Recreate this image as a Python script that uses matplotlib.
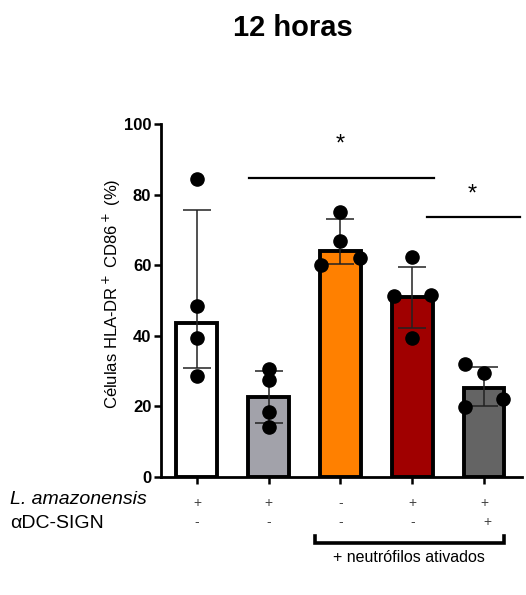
import numpy as np
import matplotlib.pyplot as plt

plt.rcParams['font.family'] = ['Liberation Sans', 'DejaVu Sans']

# valores (12 horas)
means = [43.5, 22.8, 64.1, 51.1, 25.3]
err_low = [31.0, 15.3, 60.3, 42.1, 20.2]
err_high = [75.5, 30.0, 73.0, 59.6, 31.2]
points = [
    [84.5, 48.5, 39.5, 28.5],
    [30.5, 27.5, 18.5, 14.2],
    [75.0, 66.9, 60.1, 62.0],
    [62.4, 51.4, 51.6, 39.3],
    [31.9, 29.4, 19.7, 22.0],
]
jitter = [
    [0, 0, 0, 0],
    [0, 0, 0, 0],
    [0, 0, -0.27, 0.27],
    [0, -0.26, 0.26, 0],
    [-0.26, 0, -0.26, 0.27],
]
colors = ["#ffffff", "#a2a2aa", "#ff8000", "#a00000", "#646464"]
row_leish = ["+", "+", "-", "+", "+"]
row_dcsign = ["-", "-", "-", "-", "+"]

fig = plt.figure(figsize=(5.26, 5.95), dpi=100)
ax = fig.add_axes([161 / 526, 1 - 477 / 595, (522 - 161) / 526, (477 - 124) / 595])

x = np.arange(len(means))
ax.bar(x, means, width=0.57, color=colors, edgecolor="black", linewidth=2.8, zorder=1)
yerr = [np.array(means) - np.array(err_low), np.array(err_high) - np.array(means)]
ax.errorbar(x, means, yerr=yerr, fmt="none", ecolor="#222222", elinewidth=1.1,
            capsize=10, capthick=1.1, zorder=2)
for i, pts in enumerate(points):
    ax.scatter(i + np.array(jitter[i]), pts, s=90, color="black", zorder=3)

ax.set_xlim(-0.5, 4.53)
ax.set_ylim(0, 100)
ax.set_yticks([0, 20, 40, 60, 80, 100])
ax.set_xticks(x)
ax.set_xticklabels([])
ax.tick_params(axis="both", width=1.8, length=5, labelsize=12)
ax.tick_params(axis="y", pad=2)
for lab in ax.get_yticklabels():
    lab.set_fontweight("bold")
for s in ["top", "right"]:
    ax.spines[s].set_visible(False)
for s in ["left", "bottom"]:
    ax.spines[s].set_linewidth(2)
ax.set_ylabel(r"Células HLA-DR$^+$ CD86$^+$ (%)", fontsize=12)
ax.yaxis.set_label_coords(-0.105, 0.52)

# linhas de significancia
ax.plot([0.72, 3.3], [84.7, 84.7], color="black", lw=1.6, clip_on=False)
ax.text(2.0, 91.0, "*", ha="center", va="bottom", fontsize=17)
ax.plot([3.2, 4.5], [73.6, 73.6], color="black", lw=1.6, clip_on=False)
ax.text(3.83, 77.0, "*", ha="center", va="bottom", fontsize=17)

# tabela de condicoes
fig.text(10 / 526, 1 - 500 / 595, "L. amazonensis", style="italic", fontsize=14, va="center")
fig.text(10 / 526, 1 - 523 / 595, "αDC-SIGN", fontsize=14, va="center")
for i in range(len(means)):
    ax.text(i, -7.3, row_leish[i], ha="center", va="center", fontsize=10,
            color="#444444")
    dx = 0.05 if row_dcsign[i] == "+" else 0
    ax.text(i + dx, -12.8, row_dcsign[i], ha="center", va="center", fontsize=10,
            color="#444444")

# chave dos neutrofilos
ax.plot([1.65, 1.65, 4.28, 4.28], [-16.8, -18.8, -18.8, -16.8], color="black",
        lw=2.6, clip_on=False, solid_joinstyle="miter")
ax.text(2.96, -22.8, "+ neutrófilos ativados", ha="center", va="center", fontsize=11.5)

fig.text(293 / 526, 1 - 28 / 595, "12 horas", ha="center", va="center",
         fontsize=21, fontweight="bold")

fig.savefig("out.png", dpi=100)
